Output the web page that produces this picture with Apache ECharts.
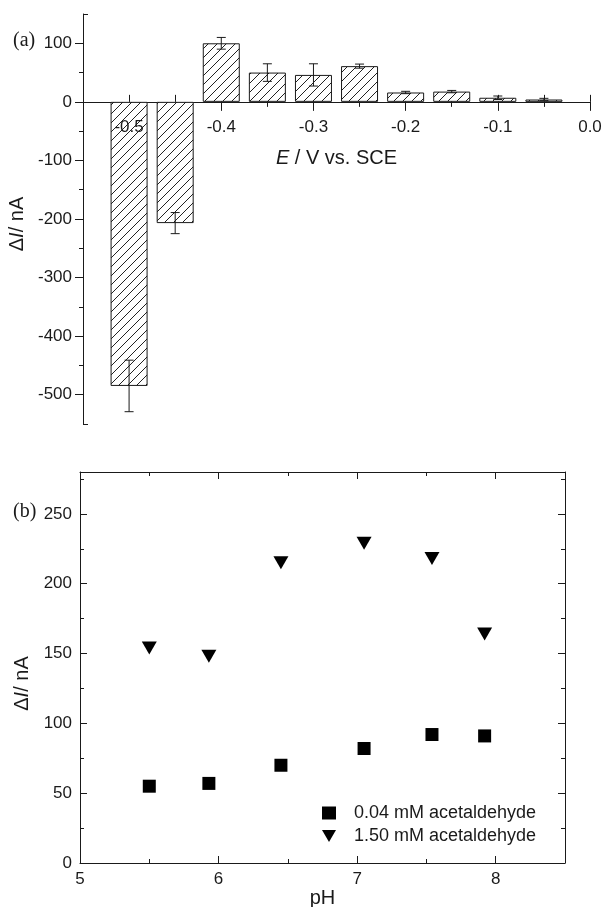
<!DOCTYPE html>
<html><head><meta charset="utf-8">
<script src="https://cdn.jsdelivr.net/npm/echarts@6/dist/echarts.min.js"></script>
<style>html,body{margin:0;padding:0;background:#fff}#c{width:605px;height:907px}</style>
</head><body><div id="c"></div>
<script>
// ---- panel (a) data ----
const potentials = [-0.5, -0.45, -0.4, -0.35, -0.3, -0.25, -0.2, -0.15, -0.1, -0.05];
const deltaI = [-485, -207, 100, 50, 46, 61, 16, 17.5, 7, 4];
const deltaIErr = [44, 18, 10, 15, 19, 3.5, 2, 2, 3, 2];
const aMajorTicks = [-0.5, -0.4, -0.3, -0.2, -0.1, 0];
const aMinorTicks = [-0.45, -0.35, -0.25, -0.15, -0.05];
const aYMajor = [-500, -400, -300, -200, -100, 0, 100];
const aYMinor = [-450, -350, -250, -150, -50, 50];

// ---- panel (b) data ----
const pH = [5.5, 5.93, 6.45, 7.05, 7.54, 7.92];
const low = [55, 57, 70, 82, 92, 91];
const high = [154, 148, 215, 229, 218, 164];
const bXMajor = [5, 6, 7, 8];
const bXMinor = [5.5, 6.5, 7.5];
const bYMajor = [0, 50, 100, 150, 200, 250];
const bYMinor = [25, 75, 125, 175, 225, 275];

const FONT = "'Liberation Sans', Arial, sans-serif";
const INK = '#1a1a1a';

// hatch pattern
const pc = document.createElement('canvas');
pc.width = 9; pc.height = 9;
const g = pc.getContext('2d');
g.fillStyle = '#fff'; g.fillRect(0, 0, 9, 9);
g.strokeStyle = '#222'; g.lineWidth = 1;
g.beginPath();
g.moveTo(-1, 10); g.lineTo(10, -1);
g.moveTo(-1, 1); g.lineTo(1, -1);
g.moveTo(8, 10); g.lineTo(10, 8);
g.stroke();

function tickAxis(extra) {
  return Object.assign({
    type: 'value', axisLine: { show: false, onZero: false },
    axisLabel: { show: false }, splitLine: { show: false },
    axisTick: { show: true, lineStyle: { color: INK } }
  }, extra);
}

const aGridH = 410;
const aX = { gridIndex: 0, min: -0.55, max: 0 };
const aY = { gridIndex: 0, min: -550, max: 150 };
// the x axes of panel (a) sit on the zero line: shift from the grid bottom
const aZeroOffset = -aGridH * (0 - aY.min) / (aY.max - aY.min);
const bX = { gridIndex: 1, min: 5, max: 8.5 };
const bY = { gridIndex: 1, min: 0, max: 280 };

const xAxes = [
  // 0: main line + outward major ticks + name
  Object.assign(tickAxis({
    position: 'bottom', offset: aZeroOffset,
    axisLine: { show: true, onZero: false, lineStyle: { color: INK, width: 1 } },
    axisTick: { show: true, customValues: aMajorTicks, length: 9, lineStyle: { color: INK } },
    name: '{i|E} / V vs. SCE', nameLocation: 'middle', nameGap: 47,
    nameTextStyle: { fontFamily: FONT, fontSize: 20, color: INK, rich: { i: { fontStyle: 'italic', fontFamily: FONT, fontSize: 20, color: INK } } }
  }), aX),
  // 1: inward ticks
  Object.assign(tickAxis({
    position: 'bottom', offset: aZeroOffset,
    axisTick: { show: true, inside: true, customValues: aMajorTicks.concat(aMinorTicks), length: 7, lineStyle: { color: INK } }
  }), aX),
  // 2: outward minor ticks
  Object.assign(tickAxis({
    position: 'bottom', offset: aZeroOffset,
    axisTick: { show: true, customValues: aMinorTicks, length: 5, lineStyle: { color: INK } }
  }), aX),
  // 3: labels on top of bars
  Object.assign(tickAxis({
    position: 'bottom', offset: aZeroOffset, z: 6,
    axisTick: { show: false },
    axisLabel: { show: true, customValues: aMajorTicks, margin: 17, fontFamily: FONT, fontSize: 17, color: INK,
      formatter: v => (Math.abs(v) < 1e-9 ? '0.0' : Number(v).toFixed(1)) }
  }), aX),
  // 4: panel b bottom main
  Object.assign(tickAxis({
    position: 'bottom',
    axisLine: { show: true, onZero: false, lineStyle: { color: INK } },
    axisTick: { show: true, inside: true, customValues: bXMajor, length: 7, lineStyle: { color: INK } },
    axisLabel: { show: true, customValues: bXMajor, margin: 8, fontFamily: FONT, fontSize: 17, color: INK },
    name: 'pH', nameLocation: 'middle', nameGap: 25,
    nameTextStyle: { fontFamily: FONT, fontSize: 20, color: INK }
  }), bX),
  // 5: panel b bottom minor
  Object.assign(tickAxis({ position: 'bottom',
    axisTick: { show: true, inside: true, customValues: bXMinor, length: 4, lineStyle: { color: INK } } }), bX),
  // 6: top major
  Object.assign(tickAxis({ position: 'top',
    axisLine: { show: true, onZero: false, lineStyle: { color: INK } },
    axisTick: { show: true, inside: true, customValues: bXMajor, length: 7, lineStyle: { color: INK } } }), bX),
  // 7: top minor
  Object.assign(tickAxis({ position: 'top',
    axisTick: { show: true, inside: true, customValues: bXMinor, length: 4, lineStyle: { color: INK } } }), bX)
];

const yAxes = [
  // 0: panel a main
  Object.assign(tickAxis({
    position: 'left',
    axisLine: { show: true, onZero: false, lineStyle: { color: INK } },
    axisTick: { show: true, customValues: aYMajor, length: 8, lineStyle: { color: INK } },
    axisLabel: { show: true, customValues: aYMajor, margin: 11, fontFamily: FONT, fontSize: 17, color: INK },
    name: '\u0394{i|I}/ nA', nameLocation: 'middle', nameGap: 50,
    nameTextStyle: { fontFamily: FONT, fontSize: 20, color: INK, padding: [0, 10, 0, 0],
      rich: { i: { fontStyle: 'italic', fontFamily: FONT, fontSize: 20, color: INK } } }
  }), aY),
  // 1: minor outward
  Object.assign(tickAxis({ position: 'left',
    axisTick: { show: true, customValues: aYMinor, length: 4, lineStyle: { color: INK } } }), aY),
  // 2: end brackets inward
  Object.assign(tickAxis({ position: 'left',
    axisTick: { show: true, inside: true, customValues: [-550, 150], length: 5, lineStyle: { color: INK } } }), aY),
  // 3: panel b main
  Object.assign(tickAxis({
    position: 'left',
    axisLine: { show: true, onZero: false, lineStyle: { color: INK } },
    axisTick: { show: true, inside: true, customValues: bYMajor, length: 7, lineStyle: { color: INK } },
    axisLabel: { show: true, customValues: bYMajor, margin: 8, fontFamily: FONT, fontSize: 17, color: INK },
    name: '\u0394{i|I}/ nA', nameLocation: 'middle', nameGap: 48,
    nameTextStyle: { fontFamily: FONT, fontSize: 20, color: INK, padding: [0, 32, 0, 0],
      rich: { i: { fontStyle: 'italic', fontFamily: FONT, fontSize: 20, color: INK } } }
  }), bY),
  // 4: left minor
  Object.assign(tickAxis({ position: 'left',
    axisTick: { show: true, inside: true, customValues: bYMinor, length: 4, lineStyle: { color: INK } } }), bY),
  // 5: right major
  Object.assign(tickAxis({ position: 'right',
    axisLine: { show: true, onZero: false, lineStyle: { color: INK } },
    axisTick: { show: true, inside: true, customValues: bYMajor, length: 7, lineStyle: { color: INK } } }), bY),
  // 6: right minor
  Object.assign(tickAxis({ position: 'right',
    axisTick: { show: true, inside: true, customValues: bYMinor, length: 4, lineStyle: { color: INK } } }), bY)
];

const triPath = 'path://M0,0L20,0L10,17Z';

const option = {
  animation: false,
  backgroundColor: '#fff',
  textStyle: { fontFamily: FONT },
  grid: [
    { left: 83, right: 15, top: 14, height: aGridH, outerBoundsMode: 'none' },
    { left: 80, right: 40, top: 472, height: 391, outerBoundsMode: 'none' }
  ],
  xAxis: xAxes,
  yAxis: yAxes,
  legend: {
    data: ['0.04 mM acetaldehyde', '1.50 mM acetaldehyde'],
    orient: 'vertical', left: 322, top: 804, padding: 0,
    itemWidth: 14, itemHeight: 13, itemGap: 5,
    itemStyle: { opacity: 1 },
    textStyle: { fontFamily: FONT, fontSize: 18, color: INK, lineHeight: 18, padding: [0, 0, 0, 13] }
  },
  graphic: [
    { type: 'text', left: 13, top: 31, style: { text: '(a)', font: "20px 'Liberation Serif', 'Times New Roman', serif", fill: INK } },
    { type: 'text', left: 13, top: 502, style: { text: '(b)', font: "20px 'Liberation Serif', 'Times New Roman', serif", fill: INK } }
  ],
  series: [
    {
      type: 'bar', xAxisIndex: 0, yAxisIndex: 0, barWidth: 37, z: 2,
      data: potentials.map((p, i) => [p, deltaI[i]]),
      itemStyle: { color: { image: pc, repeat: 'repeat' }, borderColor: INK, borderWidth: 1 }
    },
    {
      type: 'custom', xAxisIndex: 0, yAxisIndex: 0, z: 3,
      data: potentials.map((p, i) => [p, deltaI[i], deltaIErr[i]]),
      renderItem: (params, api) => {
        const x = api.value(0), y = api.value(1), e = api.value(2);
        const hi = api.coord([x, y + e]), lo = api.coord([x, y - e]);
        const w = 4.5, st = { stroke: INK, lineWidth: 1 };
        return { type: 'group', children: [
          { type: 'line', shape: { x1: hi[0], y1: hi[1], x2: lo[0], y2: lo[1] }, style: st },
          { type: 'line', shape: { x1: hi[0] - w, y1: hi[1], x2: hi[0] + w, y2: hi[1] }, style: st },
          { type: 'line', shape: { x1: lo[0] - w, y1: lo[1], x2: lo[0] + w, y2: lo[1] }, style: st }
        ] };
      }
    },
    {
      name: '0.04 mM acetaldehyde', type: 'scatter', xAxisIndex: 4, yAxisIndex: 3,
      symbol: 'rect', symbolSize: 13, itemStyle: { color: '#000', opacity: 1 },
      data: pH.map((p, i) => [p, low[i]])
    },
    {
      name: '1.50 mM acetaldehyde', type: 'scatter', xAxisIndex: 4, yAxisIndex: 3,
      symbol: triPath, symbolSize: [15, 13], itemStyle: { color: '#000', opacity: 1 },
      data: pH.map((p, i) => [p, high[i]])
    }
  ]
};

const chart = echarts.init(document.getElementById('c'), null, { renderer: 'canvas' });
chart.setOption(option);
</script>
</body></html>
